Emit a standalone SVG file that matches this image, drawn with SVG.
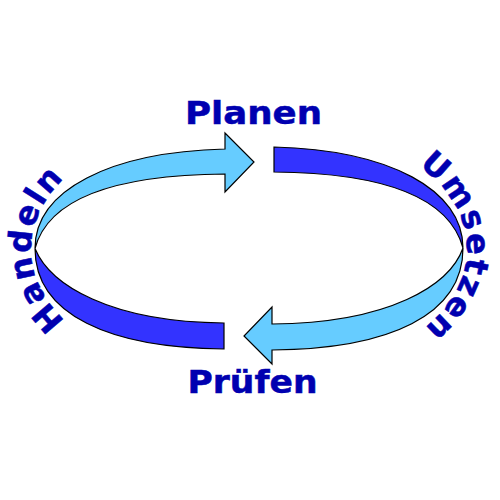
<svg xmlns="http://www.w3.org/2000/svg" width="500" height="500" viewBox="0 0 500 500">
  <style>
    .light { fill: #66CCFF; stroke: #000; stroke-width: 1.2; stroke-linejoin: miter; }
    .dark { fill: #3333FF; stroke: #000; stroke-width: 1.2; stroke-linejoin: miter; }
    .lbl { font-family: "DejaVu Sans", Verdana, sans-serif; font-weight: bold; font-size: 32px; fill: #0000B0; stroke: #0000B0; stroke-width: 0.5; }
  </style>
  <defs>
    <path id="leftArc" d="M 249 382 A 218 133 0 0 1 31 249 A 218 133 0 0 1 249 116"/>
    <path id="rightArc" d="M 249 116 A 218 133 0 0 1 467 249 A 218 133 0 0 1 249 382"/>
  </defs>
  <rect width="500" height="500" fill="#fff"/>
  <g id="connectors">
    <path class="light" d="M 35 248.5 C 35 190 110 152 225 149 L 225 133 L 254 162 L 225 192 L 225 174 C 110 175 48 200 35 248.5 Z"/>
    <path class="dark" d="M 274 147 C 390 150 463 190 463 248 C 450 200 390 173 274 172 Z"/>
    <path class="light" d="M 463 248 C 463 315 390 349 272 350 L 272 364 L 244 336 L 272 307 L 272 324 C 390 323 450 285 463 248 Z"/>
    <path class="dark" d="M 35 248.5 C 35 315 110 348 224 349 L 224 323 C 110 322 50 285 35 248.5 Z"/>
  </g>
  <g id="planen">
    <text class="lbl" x="253.5" y="123.5" text-anchor="middle" textLength="137" lengthAdjust="spacingAndGlyphs">Planen</text>
  </g>
  <g id="umsetzen">
    <text class="lbl" letter-spacing="2"><textPath href="#rightArc" startOffset="49.5%" text-anchor="middle">Umsetzen</textPath></text>
  </g>
  <g id="pruefen">
    <text class="lbl" x="252.5" y="392.5" text-anchor="middle" textLength="130" lengthAdjust="spacingAndGlyphs">Prüfen</text>
  </g>
  <g id="handeln">
    <text class="lbl" letter-spacing="2"><textPath href="#leftArc" startOffset="50%" text-anchor="middle">Handeln</textPath></text>
  </g>
</svg>
